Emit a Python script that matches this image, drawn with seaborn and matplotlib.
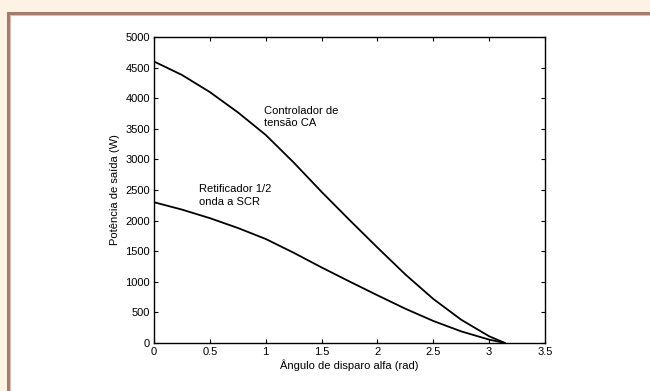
import matplotlib
matplotlib.use("Agg")
import pandas as pd
from matplotlib import pyplot as plt
from matplotlib.patches import Rectangle
import seaborn as sns

# firing angle (rad) and output power (W)
alfa = [0.0, 0.25, 0.5, 0.75, 1.0, 1.25, 1.5, 1.75, 2.0, 2.25, 2.5, 2.75, 3.0, 3.1416]
p_controlador = [4600, 4380, 4100, 3770, 3400, 2950, 2470, 2010, 1560, 1120, 720, 380, 110, 0]
p_retificador = [2300, 2180, 2040, 1880, 1700, 1475, 1235, 1005, 780, 560, 360, 190, 55, 0]

x_ticks = [0, 0.5, 1, 1.5, 2, 2.5, 3, 3.5]
y_ticks = list(range(0, 5001, 500))

df = pd.DataFrame({"alfa": alfa, "ca": p_controlador, "scr": p_retificador})

sns.set_style("ticks")
plt.rcParams["font.family"] = ["Liberation Sans", "DejaVu Sans"]
plt.rcParams["xtick.direction"] = "in"
plt.rcParams["ytick.direction"] = "in"
plt.rcParams["text.color"] = "black"
plt.rcParams["axes.labelcolor"] = "black"
plt.rcParams["xtick.color"] = "black"
plt.rcParams["ytick.color"] = "black"

fig = plt.figure(figsize=(6.5, 3.91), dpi=100)
fig.patch.set_facecolor("#fdf3e4")

# white panel with brown frame, kept behind the axes
W, H = 650, 391
fig.patches.append(Rectangle((8 / W, -0.05), 1.0, 1 - 13 / H + 0.05, transform=fig.transFigure,
                             facecolor="white", edgecolor="#a47b6f", linewidth=2.2, zorder=-10))
fig.patches.append(Rectangle((10 / W, -0.05), 1.0, 1 - 15 / H + 0.05, transform=fig.transFigure,
                             facecolor="none", edgecolor="#d9bdb3", linewidth=0.8, zorder=-9))

ax = fig.add_axes([154 / W, 1 - 343 / H, (545 - 154) / W, (343 - 37) / H])
ax.set_zorder(5)
ax.set_facecolor("white")

sns.lineplot(data=df, x="alfa", y="ca", ax=ax, color="black", linewidth=1.3)
sns.lineplot(data=df, x="alfa", y="scr", ax=ax, color="black", linewidth=1.3)

ax.set_xlim(0, 3.5)
ax.set_ylim(0, 5000)
ax.set_xticks(x_ticks)
ax.set_xticklabels([f"{t:g}" for t in x_ticks])
ax.set_yticks(y_ticks)
ax.tick_params(axis="both", labelsize=8, length=3, width=0.8, top=True, right=True, pad=3)
for s in ax.spines.values():
    s.set_linewidth(1.0)
    s.set_color("black")

ax.set_xlabel("Ângulo de disparo alfa (rad)", fontsize=8, labelpad=2)
ax.set_ylabel("Potência de saída (W)", fontsize=8, labelpad=4)

ax.text(0.985, 3880, "Controlador de\ntensão CA", fontsize=8, va="top", ha="left", linespacing=1.3)
ax.text(0.40, 2590, "Retificador 1/2\nonda a SCR", fontsize=8, va="top", ha="left", linespacing=1.3)

fig.savefig("out.png", dpi=100, facecolor=fig.get_facecolor())
